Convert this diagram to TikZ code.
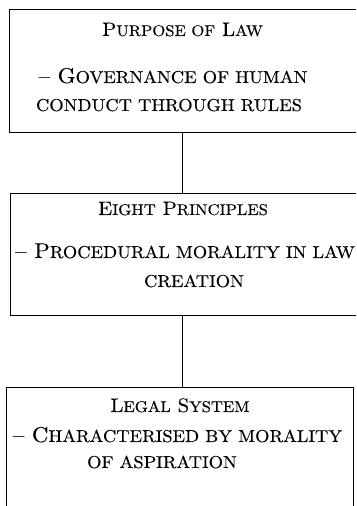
\documentclass[tikz,border=0pt]{standalone}
\usepackage{fontspec}
\setmainfont{lmroman10-regular.otf}[FakeStretch=1.07,FakeBold=0.2]
\usepackage{relsize}
% capitals with reduced-size capitals for the lower-case part
\newcommand\lc[1]{\textscale{0.8}{#1}}
\begin{document}
\begin{tikzpicture}[x=1bp,y=1bp,
  boxframe/.style={draw=black, line width=0.9bp, inner sep=0pt},
  headline/.style={font=\fontsize{19.5}{24}\selectfont, inner sep=0pt, anchor=base},
  bodyline/.style={font=\fontsize{21.5}{29}\selectfont, inner sep=0pt, anchor=base},
  link/.style={draw=black, line width=0.9bp}]
  \useasboundingbox (0,0) rectangle (356,506);
  \clip (0,0) rectangle (356,506);

  % three stacked boxes
  \node[boxframe, minimum width=349bp, minimum height=123bp] (law) at (183.5,435.5) {};
  \node[boxframe, minimum width=348bp, minimum height=122bp] (principles) at (184,252) {};
  \node[boxframe, minimum width=347bp, minimum height=133bp] (system) at (179.5,52.5) {};

  % texts of the first box
  \node[headline] (lawT) at (182.5,470) {P\lc{URPOSE OF} L\lc{AW}};
  \node[bodyline] (lawA) at (173,423) {-- G\lc{OVERNANCE OF HUMAN}};
  \node[bodyline] (lawB) at (169,395) {\lc{CONDUCT THROUGH RULES}};

  % texts of the second box
  \node[headline] (prT) at (183,291) {E\lc{IGHT} P\lc{RINCIPLES}};
  \node[bodyline] (prA) at (185,248) {-- P\lc{ROCEDURAL MORALITY IN LAW}};
  \node[bodyline] (prB) at (194,219) {\lc{CREATION}};

  % texts of the third box
  \node[headline] (syT) at (180,94) {L\lc{EGAL} S\lc{YSTEM}};
  \node[bodyline] (syA) at (177.5,64) {-- C\lc{HARACTERISED BY MORALITY}};
  \node[bodyline] (syB) at (162,38) {\lc{OF ASPIRATION}};

  % vertical connectors
  \draw[link] (law.south -| 182,0) -- (principles.north -| 182,0);
  \draw[link] (principles.south -| 182,0) -- (system.north -| 182,0);
\end{tikzpicture}
\end{document}
